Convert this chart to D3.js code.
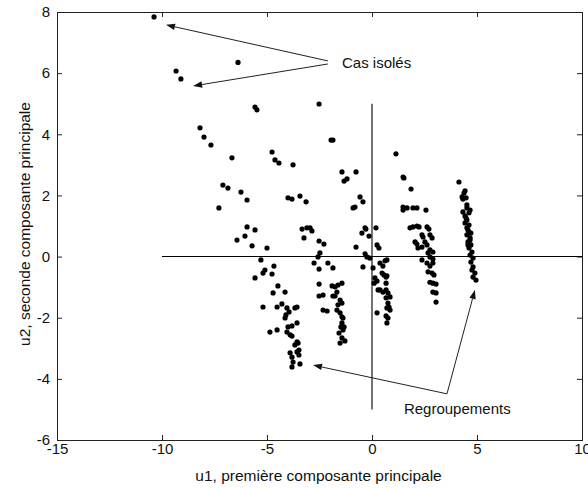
<!DOCTYPE html>
<html>
<head>
<meta charset="utf-8">
<script src="https://cdn.jsdelivr.net/npm/d3@7"></script>
<style>
  html, body { margin: 0; padding: 0; background: #fff; }
  svg { display: block; }
  text { font-family: "Liberation Sans", Arial, Helvetica, sans-serif; fill: #111; }
</style>
</head>
<body>
<svg id="chart" width="588" height="488"></svg>
<script>
// ---- Data (u1, u2), grouped by visible stripe ----
const groupA = [
  [-10.38,7.84],[-9.33,6.07],[-9.10,5.81],[-6.38,6.35],[-8.19,4.21],[-8.00,3.91],[-7.67,3.65],
  [-6.67,3.23],[-7.10,2.34],[-6.86,2.24],[-6.24,2.11],[-5.95,1.85],[-7.29,1.59],[-5.95,0.97],
  [-5.57,0.87],[-6.05,0.67],[-6.43,0.54],[-5.71,0.35],[-5.00,0.28],
  [-5.29,-0.11],[-4.67,-0.31],[-5.10,-0.44],[-5.19,-0.54],[-4.76,-0.57],[-5.57,-0.70],[-4.48,-0.96],
  [-4.71,-1.19],[-4.14,-1.16],[-5.19,-1.65],[-4.52,-1.65],[-4.29,-1.55],[-4.05,-1.68],[-3.67,-1.68],
  [-3.57,-1.65],[-4.10,-1.91],[-4.14,-2.01],[-3.95,-1.81],[-4.86,-2.47],[-4.52,-2.40],[-4.00,-2.30],
  [-3.81,-2.27],[-3.57,-2.17],[-4.05,-2.47],[-3.90,-2.56],[-3.81,-2.60],[-3.57,-2.79],[-3.52,-2.83],
  [-3.67,-2.89],[-3.48,-3.06],[-3.57,-3.12],[-3.90,-3.15],[-3.81,-3.29],[-3.48,-3.22],[-3.76,-3.45],
  [-3.43,-3.51],[-3.81,-3.61]
];
const groupB = [
  [-5.57,4.89],[-5.48,4.80],[-4.76,3.42],[-4.62,3.16],[-4.43,3.06],[-3.76,3.00],[-4.00,1.92],
  [-3.81,1.88],[-3.43,1.98],[-3.14,1.79],[-3.33,0.90],[-3.10,0.94],[-2.95,0.94],[-2.86,0.84],
  [-3.24,0.61],[-2.52,0.51],[-2.29,0.41],[-2.48,0.12],[-2.57,-0.01],[-2.76,-0.21],[-2.10,-0.21],
  [-1.86,-0.37],[-2.52,-0.41],[-2.52,-0.90],[-2.52,-1.29],[-2.33,-1.26],[-1.86,-1.29],[-1.90,-0.96],
  [-1.76,-0.99],[-1.62,-0.93],[-1.43,-0.87],[-1.67,-1.16],[-1.76,-1.29],[-1.52,-1.42],[-1.43,-1.52],
  [-1.62,-1.58],[-2.33,-1.75],[-2.14,-1.78],[-1.67,-1.75],[-1.52,-1.84],[-1.43,-1.97],[-1.38,-2.01],
  [-1.43,-2.17],[-1.33,-2.30],[-1.48,-2.30],[-1.38,-2.40],[-1.57,-2.50],[-1.43,-2.66],[-1.29,-2.76],
  [-1.52,-2.83]
];
const groupC = [
  [-2.52,4.99],[-1.95,3.81],[-1.86,3.81],[-1.43,2.77],[-0.76,2.77],[-1.33,2.47],[-1.19,2.54],
  [-0.57,1.95],[-0.43,1.79],[-0.90,1.59],[-0.81,1.62],[-0.48,0.77],[-0.33,0.94],[-0.29,0.90],
  [-0.14,0.67],[0.19,0.94],[-0.76,0.31],[0.24,0.38],[0.33,0.28],[-0.33,0.09],[-0.24,-0.01],
  [-0.10,-0.05],[-0.43,-0.34],[0.05,-0.37],[0.38,-0.21],[0.52,-0.31],[0.62,-0.14],[0.71,-0.11],
  [0.14,-0.70],[0.24,-0.80],[0.10,-0.87],[0.48,-0.54],[0.57,-0.60],[0.67,-0.67],[0.71,-0.63],
  [0.67,-0.87],[0.38,-1.09],[0.52,-1.16],[0.67,-1.09],[0.76,-1.19],[0.86,-1.32],[0.67,-1.35],
  [0.76,-1.52],[0.71,-1.68],[0.81,-1.65],[0.86,-1.75],[0.24,-1.84],[0.67,-1.94],[0.76,-2.01],
  [0.71,-2.17],[0.29,-1.09]
];
const groupD = [
  [1.14,3.36],[1.48,2.60],[1.52,2.57],[1.86,2.21],[1.48,1.62],[1.48,1.52],[1.67,1.59],[1.95,1.59],
  [2.14,1.59],[2.57,1.52],[1.81,0.94],[1.95,0.97],[2.14,1.00],[2.24,0.97],[2.62,0.97],[2.71,0.90],
  [2.38,0.71],[2.43,0.64],[2.76,0.71],[2.86,0.61],[2.05,0.48],[2.14,0.41],[2.52,0.48],[2.62,0.38],
  [2.38,0.31],[2.19,0.28],[2.76,0.22],[2.90,0.15],[2.67,0.12],[2.38,-0.11],[2.76,-0.01],[2.90,-0.08],
  [2.62,-0.21],[2.76,-0.31],[2.90,-0.21],[2.67,-0.50],[2.86,-0.54],[2.95,-0.60],[2.76,-0.84],
  [2.90,-0.87],[3.05,-0.90],[2.90,-1.16],[3.05,-1.19],[3.05,-1.49]
];
const groupE = [
  [4.14,2.44],[4.43,2.15],[4.38,2.08],[4.29,1.95],[4.48,1.92],[4.33,1.88],[4.52,1.69],[4.52,1.59],
  [4.67,1.52],[4.33,1.46],[4.62,1.43],[4.43,1.33],[4.48,1.26],[4.52,1.20],[4.43,1.10],[4.62,1.03],
  [4.52,0.94],[4.57,0.87],[4.62,0.80],[4.71,0.77],[4.52,0.71],[4.67,0.61],[4.67,0.54],[4.57,0.48],
  [4.71,0.38],[4.57,0.38],[4.62,0.28],[4.76,0.15],[4.67,0.05],[4.81,-0.05],[4.71,-0.18],[4.81,-0.34],
  [4.76,-0.44],[4.90,-0.54],[4.81,-0.67],[4.95,-0.77]
];

const xTicks = [-15, -10, -5, 0, 5, 10];
const yTicks = [-6, -4, -2, 0, 2, 4, 6, 8];
const xLabel = "u1, première composante principale";
const yLabel = "u2, seconde composante principale";

// reference lines (data coords)
const hLine = [[-10, 0], [10, 0]];
const vLine = [[0, -5], [0, 5]];

// annotations: text position, arrows [from, to]
const noteIsoles = { text: "Cas isolés", at: [-1.43, 6.17],
  arrows: [[[-2.10, 6.40], [-9.81, 7.58]], [[-2.10, 6.30], [-8.52, 5.58]]] };
const noteRegroup = { text: "Regroupements", at: [1.52, -5.15],
  arrows: [[[3.57, -4.49], [-2.81, -3.55]], [[3.57, -4.49], [4.90, -1.09]]] };

// ---- Drawing ----
const svg = d3.select("#chart");
const mL = 57, mR = 582, mT = 12, mB = 440;
const x = d3.scaleLinear().domain([-15, 10]).range([mL, mR]);
const y = d3.scaleLinear().domain([-6, 8]).range([mB, mT]);

const axisColor = "#222";
const fontSize = "15px";

// axes with inward ticks on all four sides
const gB = svg.append("g").attr("transform", `translate(0,${mB})`)
  .call(d3.axisBottom(x).tickValues(xTicks).tickSizeInner(-5).tickSizeOuter(0).tickPadding(3));
const gL = svg.append("g").attr("transform", `translate(${mL},0)`)
  .call(d3.axisLeft(y).tickValues(yTicks).tickSizeInner(-5).tickSizeOuter(0).tickPadding(7));
const gT = svg.append("g").attr("transform", `translate(0,${mT})`)
  .call(d3.axisTop(x).tickValues(xTicks).tickSizeInner(-5).tickSizeOuter(0).tickFormat(""));
const gR = svg.append("g").attr("transform", `translate(${mR},0)`)
  .call(d3.axisRight(y).tickValues(yTicks).tickSizeInner(-5).tickSizeOuter(0).tickFormat(""));

[gB, gL, gT, gR].forEach(g => {
  g.select(".domain").remove();
  g.selectAll(".tick line").attr("stroke", axisColor);
  g.selectAll(".tick text").attr("fill", "#111")
    .style("font-size", fontSize).style("font-family", '"Liberation Sans", Arial, sans-serif');
});
// plain hyphen-minus like the reference
gB.selectAll(".tick text").text(d => String(d));
gL.selectAll(".tick text").text(d => String(d));

// box
svg.append("rect")
  .attr("x", mL + 0.5).attr("y", mT + 0.5)
  .attr("width", mR - mL).attr("height", mB - mT)
  .attr("fill", "none").attr("stroke", axisColor).attr("stroke-width", 1);

// reference lines
const line = d3.line().x(d => x(d[0])).y(d => y(d[1]));
svg.append("path").attr("d", line(hLine)).attr("stroke", "#000").attr("stroke-width", 1.1).attr("fill", "none");
svg.append("path").attr("d", line(vLine)).attr("stroke", "#000").attr("stroke-width", 1.1).attr("fill", "none");

// points
const allPoints = [].concat(groupA, groupB, groupC, groupD, groupE);
svg.append("g").selectAll("circle").data(allPoints).join("circle")
  .attr("cx", d => x(d[0])).attr("cy", d => y(d[1]))
  .attr("r", 2.6).attr("fill", "#000");

// annotations
function drawArrow(from, to) {
  const x1 = x(from[0]), y1 = y(from[1]), x2 = x(to[0]), y2 = y(to[1]);
  const ang = Math.atan2(y2 - y1, x2 - x1);
  const L = 9, W = 3.2;
  const bx = x2 - L * Math.cos(ang), by = y2 - L * Math.sin(ang);
  svg.append("line").attr("x1", x1).attr("y1", y1).attr("x2", bx).attr("y2", by)
    .attr("stroke", "#222").attr("stroke-width", 1);
  const px = -Math.sin(ang) * W, py = Math.cos(ang) * W;
  svg.append("path")
    .attr("d", `M${x2},${y2}L${bx + px},${by + py}L${bx - px},${by - py}Z`)
    .attr("fill", "#111");
}
[noteIsoles, noteRegroup].forEach(n => {
  n.arrows.forEach(a => drawArrow(a[0], a[1]));
  svg.append("text").attr("x", x(n.at[0])).attr("y", y(n.at[1]))
    .style("font-size", fontSize).text(n.text);
});

// axis labels
svg.append("text").attr("x", (mL + mR) / 2 - 1).attr("y", 481)
  .attr("text-anchor", "middle").style("font-size", "15.5px").text(xLabel);
svg.append("text").attr("transform", `translate(30,${(mT + mB) / 2 - 2}) rotate(-90)`)
  .attr("text-anchor", "middle").style("font-size", "15.5px").text(yLabel);
</script>
</body>
</html>
